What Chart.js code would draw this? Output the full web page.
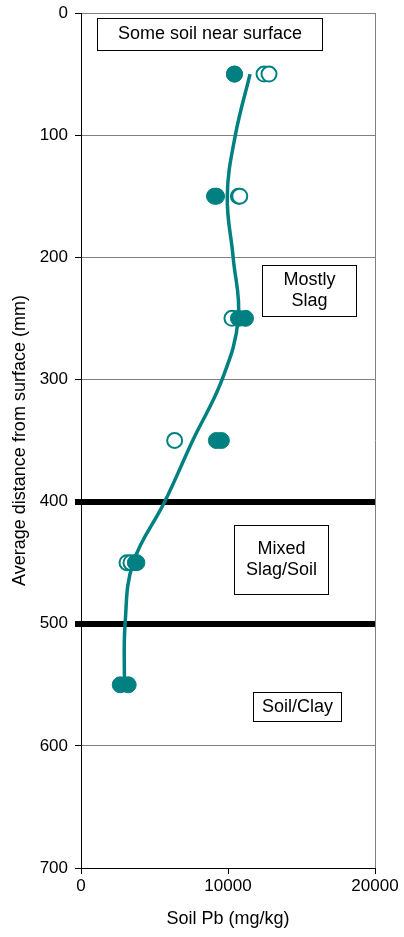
<!DOCTYPE html>
<html>
<head>
<meta charset="utf-8">
<script src="https://cdn.jsdelivr.net/npm/chart.js@4"></script>
<style>
  html, body { margin: 0; padding: 0; background: #fff; }
  #wrap { width: 404px; height: 937px; }
</style>
</head>
<body>
<div id="wrap"><canvas id="chart" width="404" height="937"></canvas></div>
<script>
// Depth (mm) vs soil Pb (mg/kg)
const filledPb = [10440, 10440, 9080, 9220, 10710, 11190, 9210, 9550, 3700, 3800, 2670, 3210];
const filledDepth = [50, 50, 150, 150, 250, 250, 350, 350, 450, 450, 550, 550];
const openPb = [12450, 12790, 10710, 10800, 10270, 6370, 3130, 3400];
const openDepth = [50, 50, 150, 150, 250, 350, 450, 450];

// fitted curve
const curvePb = [11500, 10500, 9950, 10350, 10700, 9600, 7600, 5700, 3550, 3000, 2950];
const curveDepth = [50, 100, 150, 200, 250, 300, 350, 400, 450, 500, 550];

const xTicks = [0, 10000, 20000];
const yTicks = [0, 100, 200, 300, 400, 500, 600, 700];

// text boxes (data coords)
const notes = [
    { x0: 1090, x1: 16400, y0: 4, y1: 30, lines: ['Some soil near surface'] },
    { x0: 12310, x1: 18710, y0: 206, y1: 248, lines: ['Mostly', 'Slag'] },
    { x0: 10410, x1: 16800, y0: 419, y1: 476, lines: ['Mixed', 'Slag/Soil'] },
    { x0: 11700, x1: 17690, y0: 556, y1: 580, lines: ['Soil/Clay'] }
];

const teal = '#008080';
const FONT = 'Liberation Sans, Arial, sans-serif';
const toPts = (xs, ys) => xs.map((v, i) => ({ x: v, y: ys[i] }));
const isThick = c => c.tick && (c.tick.value === 400 || c.tick.value === 500);

const notesPlugin = {
    id: 'notes',
    afterDraw(chart) {
        const { ctx, scales: { x, y } } = chart;
        ctx.save();
        ctx.font = '18px ' + FONT;
        ctx.textAlign = 'center';
        ctx.textBaseline = 'middle';
        notes.forEach(n => {
            const l = Math.round(x.getPixelForValue(n.x0)) + 0.5;
            const r = Math.round(x.getPixelForValue(n.x1)) + 0.5;
            const t = Math.round(y.getPixelForValue(n.y0)) + 0.5;
            const b = Math.round(y.getPixelForValue(n.y1)) + 0.5;
            ctx.fillStyle = '#fff';
            ctx.fillRect(l, t, r - l, b - t);
            ctx.strokeStyle = '#000';
            ctx.lineWidth = 1;
            ctx.strokeRect(l, t, r - l, b - t);
            ctx.fillStyle = '#000';
            const cx = (l + r) / 2, cy = (t + b) / 2, lh = 21;
            n.lines.forEach((s, i) => {
                ctx.fillText(s, cx, cy + (i - (n.lines.length - 1) / 2) * lh);
            });
        });
        ctx.restore();
    }
};

new Chart(document.getElementById('chart'), {
    type: 'scatter',
    data: {
        datasets: [
            {
                label: 'fit',
                data: toPts(curvePb, curveDepth),
                showLine: true,
                tension: 0.4,
                borderColor: teal,
                borderWidth: 3.5,
                pointRadius: 0,
                order: 0
            },
            {
                label: 'filled',
                data: toPts(filledPb, filledDepth),
                pointRadius: 8,
                pointBackgroundColor: teal,
                pointBorderColor: teal,
                pointBorderWidth: 1,
                order: 1
            },
            {
                label: 'open',
                data: toPts(openPb, openDepth),
                pointRadius: 7.5,
                pointBackgroundColor: '#fff',
                pointBorderColor: teal,
                pointBorderWidth: 2,
                order: 2
            }
        ]
    },
    options: {
        responsive: false,
        animation: false,
        layout: { padding: { top: 13, right: 29, left: 0, bottom: 0 } },
        plugins: { legend: { display: false }, tooltip: { enabled: false } },
        scales: {
            x: {
                type: 'linear',
                min: 0, max: 20000,
                afterBuildTicks: s => { s.ticks = xTicks.map(v => ({ value: v })); },
                afterFit: s => { s.height = 69; s.paddingLeft = 0; s.paddingRight = 0; },
                border: { color: '#000', width: 1 },
                grid: {
                    drawOnChartArea: true,
                    color: c => c.tick && c.tick.value === 20000 ? '#808080' : 'rgba(0,0,0,0)',
                    tickColor: '#000',
                    tickLength: 6
                },
                ticks: {
                    color: '#000', font: { family: FONT, size: 17 }, padding: 2, maxRotation: 0,
                    callback: v => String(v)
                },
                title: {
                    display: true, text: 'Soil Pb (mg/kg)', color: '#000',
                    font: { family: FONT, size: 18 }, padding: { top: 0, bottom: 7 }
                }
            },
            y: {
                type: 'linear',
                reverse: true,
                min: 0, max: 700,
                afterBuildTicks: s => { s.ticks = yTicks.map(v => ({ value: v })); },
                afterFit: s => { s.width = 81; s.paddingTop = 0; s.paddingBottom = 0; },
                border: { color: '#000', width: 1 },
                grid: {
                    color: c => isThick(c) ? '#000' : '#808080',
                    lineWidth: c => isThick(c) ? 6 : 1,
                    tickColor: '#000',
                    tickWidth: c => isThick(c) ? 6 : 1,
                    tickLength: 6
                },
                ticks: { color: '#000', font: { family: FONT, size: 17 }, padding: 7 },
                title: {
                    display: true, text: 'Average distance from surface (mm)', color: '#000',
                    font: { family: FONT, size: 18 }, padding: { top: 9, bottom: 0 }
                }
            }
        }
    },
    plugins: [notesPlugin]
});
</script>
</body>
</html>
